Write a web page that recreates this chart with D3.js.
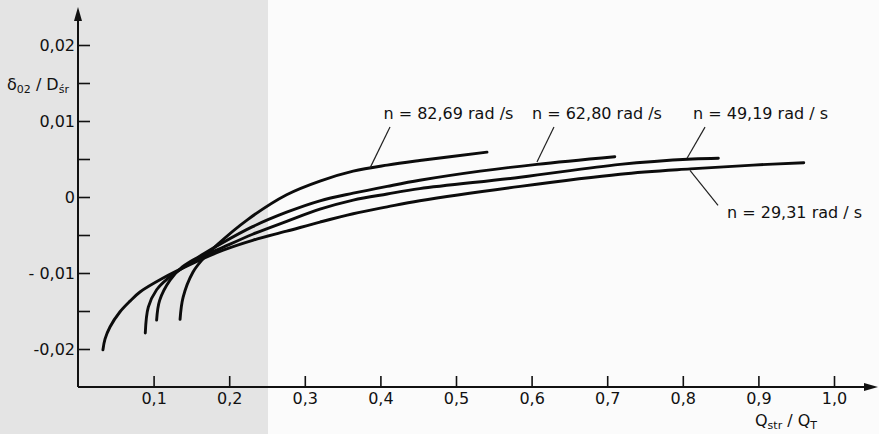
<!DOCTYPE html>
<html>
<head>
<meta charset="utf-8">
<script src="https://cdn.jsdelivr.net/npm/d3@7"></script>
<style>
  body { margin: 0; background: #fff; }
  svg { display: block; font-family: "DejaVu Sans", sans-serif; }
</style>
</head>
<body>
<div id="chart"></div>
<script>
// curves: [Qstr/QT, delta02/Dsr]
var n8269 = [[0.135,-0.0161],[0.139,-0.0132],[0.152,-0.0099],[0.164,-0.0083],[0.184,-0.0063],
  [0.224,-0.0030],[0.276,0.0003],[0.320,0.0021],[0.364,0.0034],[0.409,0.0042],[0.452,0.0048],[0.541,0.0059]];
var n6280 = [[0.104,-0.0162],[0.108,-0.0136],[0.122,-0.0109],[0.138,-0.0092],[0.161,-0.0078],
  [0.188,-0.0062],[0.231,-0.0039],[0.276,-0.0020],[0.320,-0.0005],[0.364,0.0005],[0.409,0.0014],
  [0.452,0.0022],[0.532,0.0034],[0.607,0.0043],[0.710,0.0053]];
var n4919 = [[0.089,-0.0179],[0.093,-0.0145],[0.104,-0.0122],[0.119,-0.0107],[0.142,-0.0091],
  [0.161,-0.0080],[0.188,-0.0068],[0.231,-0.0049],[0.276,-0.0032],[0.320,-0.0016],[0.364,-0.0004],
  [0.409,0.0004],[0.452,0.0011],[0.585,0.0026],[0.717,0.0043],[0.813,0.0050],[0.847,0.0051]];
var n2931 = [[0.033,-0.0201],[0.0357,-0.0187],[0.0423,-0.0171],[0.0556,-0.0151],[0.0688,-0.0137],
  [0.082,-0.0125],[0.112,-0.0107],[0.148,-0.0089],[0.192,-0.0070],[0.231,-0.0057],[0.276,-0.0045],
  [0.320,-0.0033],[0.364,-0.0022],[0.409,-0.0013],[0.452,-0.0005],[0.585,0.0014],[0.717,0.0030],
  [0.810,0.0037],[0.893,0.0042],[0.960,0.0045]];

var seriesNames = ["n = 82,69 rad /s", "n = 62,80 rad /s", "n = 49,19 rad / s", "n = 29,31 rad / s"];
var seriesData = [n8269, n6280, n4919, n2931];

var xTicks = [0.1, 0.2, 0.3, 0.4, 0.5, 0.6, 0.7, 0.8, 0.9, 1.0];
var xTickLabels = ["0,1", "0,2", "0,3", "0,4", "0,5", "0,6", "0,7", "0,8", "0,9", "1,0"];
var yTicks = [0.02, 0.015, 0.01, 0.005, 0, -0.005, -0.01, -0.015, -0.02];
var yTickLabels = ["0,02", "", "0,01", "", "0", "", "- 0,01", "", "-0,02"];

// label anchors in data units: text start, leader end at text, leader end on curve
var labelPos = [[0.404, 0.0103], [0.6005, 0.0103], [0.8135, 0.0103], [0.8585, -0.0028]];
var leaderTop = [[0.4127, 0.0092], [0.6296, 0.0092], [0.8294, 0.0092], [0.8466, -0.0011]];
var leaderCurve = [[0.3862, 0.0038], [0.6071, 0.0046], [0.8056, 0.0051], [0.8095, 0.0035]];

var W = 879, H = 434;

var svg = d3.select("#chart").append("svg")
  .attr("width", W)
  .attr("height", H);

// scanned paper look, greyish on the left
svg.append("rect").attr("x", 0).attr("y", 0).attr("width", W).attr("height", H).attr("fill", "#fbfbfb");
svg.append("rect").attr("x", 0).attr("y", 0).attr("width", 268).attr("height", H).attr("fill", "#e4e4e4");

var x = d3.scaleLinear().domain([0, 1.0]).range([78, 834]);
var y = d3.scaleLinear().domain([-0.025, 0.02]).range([387, 45]);

// axes
var xAxis = svg.append("g")
  .attr("transform", "translate(0," + y(-0.025) + ")")
  .call(d3.axisBottom(x).tickValues(xTicks).tickSize(-11).tickPadding(6)
    .tickFormat(function (d, i) { return xTickLabels[i]; }));

var yAxis = svg.append("g")
  .attr("transform", "translate(" + x(0) + ",0)")
  .call(d3.axisLeft(y).tickValues(yTicks).tickSize(-12).tickPadding(3)
    .tickFormat(function (d, i) { return yTickLabels[i]; }));

[xAxis, yAxis].forEach(function (a) {
  a.select(".domain").remove();
  a.selectAll(".tick line").attr("stroke", "#111").attr("stroke-width", 1.6);
  a.selectAll(".tick text")
    .style("font-family", "DejaVu Sans")
    .style("font-size", "16px")
    .attr("fill", "#111");
});

// axis lines with arrows
svg.append("line")
  .attr("x1", x(0)).attr("y1", y(-0.025))
  .attr("x2", 872).attr("y2", y(-0.025))
  .attr("stroke", "#111").attr("stroke-width", 2);
svg.append("path")
  .attr("d", "M878," + y(-0.025) + " l-14,-4 l0,8 z")
  .attr("fill", "#111");

svg.append("line")
  .attr("x1", x(0)).attr("y1", y(-0.025))
  .attr("x2", x(0)).attr("y2", 14)
  .attr("stroke", "#111").attr("stroke-width", 2);
svg.append("path")
  .attr("d", "M" + x(0) + ",7 l-4,14 l8,0 z")
  .attr("fill", "#111");

// curves
var line = d3.line()
  .x(function (d) { return x(d[0]); })
  .y(function (d) { return y(d[1]); })
  .curve(d3.curveCatmullRom.alpha(0.5));

svg.selectAll("path.curve")
  .data(seriesData)
  .enter()
  .append("path")
  .attr("class", "curve")
  .attr("fill", "none")
  .attr("stroke", "#0c0c0c")
  .attr("stroke-width", 2.9)
  .attr("stroke-linecap", "round")
  .attr("d", line);

// leaders and labels
seriesNames.forEach(function (name, i) {
  svg.append("line")
    .attr("x1", x(leaderTop[i][0])).attr("y1", y(leaderTop[i][1]))
    .attr("x2", x(leaderCurve[i][0])).attr("y2", y(leaderCurve[i][1]))
    .attr("stroke", "#222").attr("stroke-width", 1.2);

  svg.append("text")
    .attr("x", x(labelPos[i][0]))
    .attr("y", y(labelPos[i][1]))
    .style("font-size", "16px")
    .attr("fill", "#111")
    .text(name);
});

// axis titles
var yTitle = svg.append("text")
  .attr("x", 7)
  .attr("y", y(0.015) + 7)
  .style("font-size", "16px")
  .attr("fill", "#111");
yTitle.append("tspan").text("δ");
yTitle.append("tspan").attr("dy", 3).style("font-size", "11px").text("02");
yTitle.append("tspan").attr("dy", -3).text(" / D");
yTitle.append("tspan").attr("dy", 3).style("font-size", "11px").text("śr");

var xTitle = svg.append("text")
  .attr("x", 755)
  .attr("y", 426)
  .style("font-size", "16px")
  .attr("fill", "#111");
xTitle.append("tspan").text("Q");
xTitle.append("tspan").attr("dy", 3).style("font-size", "11px").text("str");
xTitle.append("tspan").attr("dy", -3).text(" / Q");
xTitle.append("tspan").attr("dy", 3).style("font-size", "11px").text("T");
</script>
</body>
</html>
